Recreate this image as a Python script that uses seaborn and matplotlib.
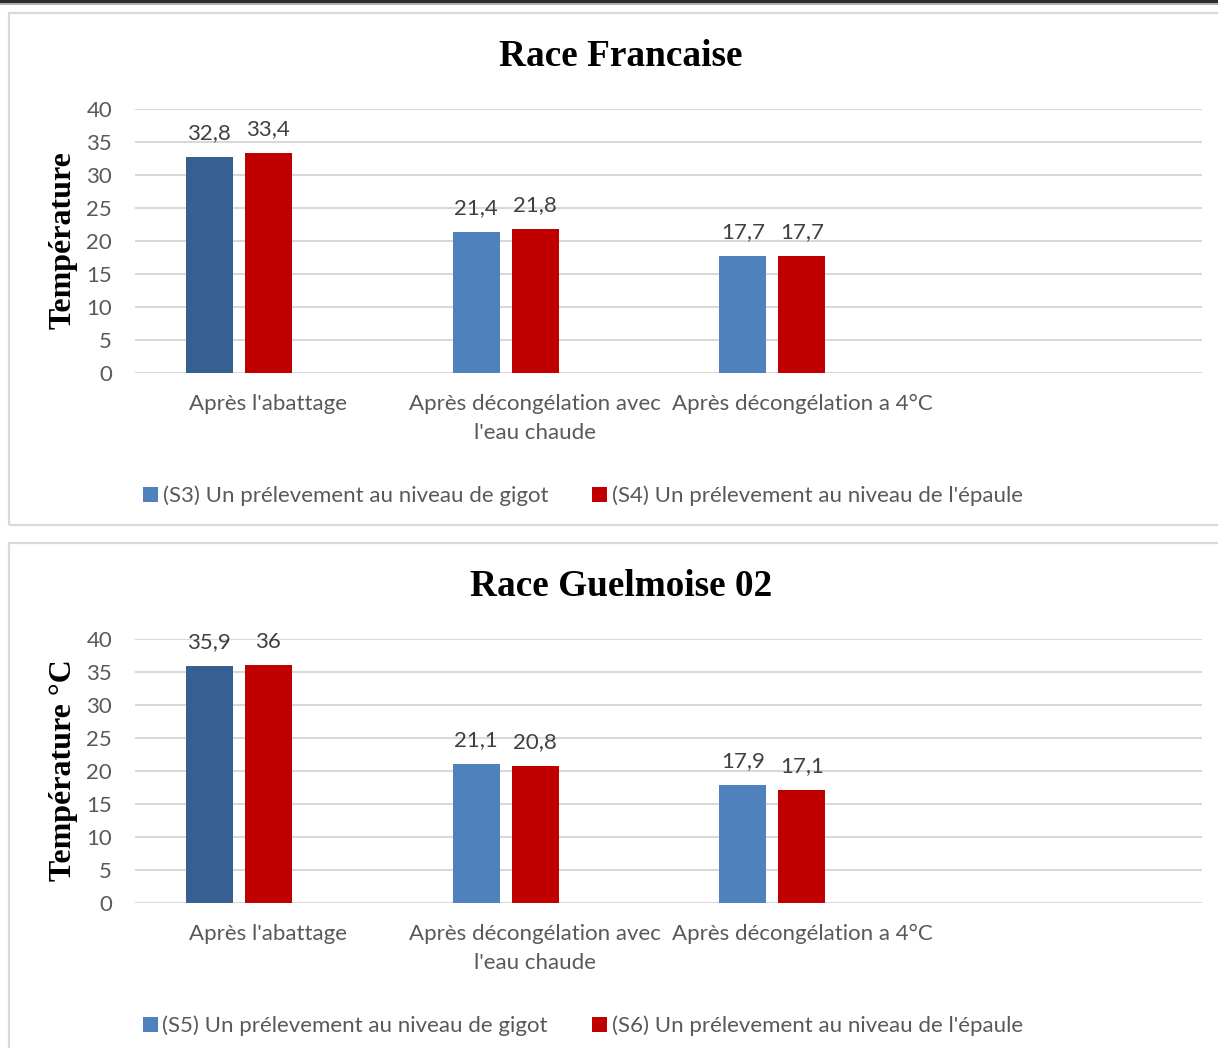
import numpy as np
import pandas as pd
import matplotlib
matplotlib.use("Agg")
import matplotlib.pyplot as plt
from matplotlib.patches import Rectangle, Patch
import seaborn as sns

# ---- data ----
categories = ["Après l'abattage", "Après décongélation avec\nl'eau chaude", "Après décongélation a 4°C", " "]
measured = categories[:3]

titles = ["Race Francaise", "Race Guelmoise 02"]
ylabels = ["Température", "Température °C"]

series_top = ["(S3) Un prélevement au niveau de gigot", "(S4) Un prélevement au niveau de l'épaule"]
gigot_top = [32.8, 21.4, 17.7]
epaule_top = [33.4, 21.8, 17.7]

series_bottom = ["(S5) Un prélevement au niveau de gigot", "(S6) Un prélevement au niveau de l'épaule"]
gigot_bottom = [35.9, 21.1, 17.9]
epaule_bottom = [36.0, 20.8, 17.1]

yticks = [0, 5, 10, 15, 20, 25, 30, 35, 40]

# ---- style ----
sns.set_style("white")
plt.rcParams["font.family"] = ["Lato", "DejaVu Sans"]

BLUE = "#4F81BD"
BLUE_DARK = "#376092"
RED = "#C00000"
GRID = "#D9D9D9"
TXT = "#595959"
LBL = "#404040"
FS = 16

W, H = 1218, 1048
fig = plt.figure(figsize=(W / 100, H / 100), dpi=100)
fig.patch.set_facecolor("white")


def fx(px):
    return px / W


def fy(py):
    return 1 - py / H


# top rule of the page
fig.patches.append(Rectangle((0, fy(3)), 1, 3 / H, transform=fig.transFigure,
                             facecolor="#2b2b2b", edgecolor="none"))
fig.patches.append(Rectangle((0, fy(5)), 1, 2 / H, transform=fig.transFigure,
                             facecolor="#b0b0b0", edgecolor="none"))


def fmt(v):
    return f"{v:g}".replace(".", ",")


def panel(top, title, ylabel, names, gigot, epaule):
    # frame around the panel
    fig.patches.append(Rectangle((fx(9), fy(top + 512)), fx(1240), 512 / H,
                                 transform=fig.transFigure, facecolor="none",
                                 edgecolor=GRID, linewidth=1.6))

    y0 = top + 360  # baseline pixel
    ax = fig.add_axes([fx(135), fy(y0), fx(1067), 264 / H])

    df = pd.DataFrame({
        "cat": measured * 2,
        "serie": [names[0]] * 3 + [names[1]] * 3,
        "val": list(gigot) + list(epaule),
    })
    hue_order = [names[0], names[1], "_vide"]
    pal = {names[0]: BLUE, names[1]: RED, "_vide": "white"}
    sns.barplot(data=df, x="cat", y="val", hue="serie", order=categories,
                hue_order=hue_order, palette=pal, saturation=1,
                width=3 * 59 / 266.75, gap=12 / 59, linewidth=0,
                legend=False, errorbar=None, ax=ax)

    ax.containers[0][0].set_facecolor(BLUE_DARK)

    for cont, vals in zip(ax.containers[:2], [gigot, epaule]):
        ax.bar_label(cont, labels=[fmt(v) for v in vals], padding=10,
                     fontsize=FS, color=LBL)

    ax.set_ylim(0, 40)
    ax.set_xlim(-0.5, 3.5)
    ax.set_yticks(yticks)
    ax.yaxis.grid(True, color=GRID, linewidth=1.5)
    ax.set_axisbelow(True)
    for s in ax.spines.values():
        s.set_visible(False)
    ax.tick_params(axis="y", length=0, pad=16.5, labelsize=FS, labelcolor=TXT)
    ax.tick_params(axis="x", length=0, pad=15, labelsize=FS, labelcolor=TXT)
    ax.set_xticks(range(len(categories)))
    ax.set_xticklabels(categories, linespacing=1.55)
    ax.set_xlabel("")
    ax.set_ylabel("")

    fig.text(fx(621), fy(top + 44), title, ha="center", va="center",
             fontsize=26.8, fontweight="bold", family="Liberation Serif", color="black")
    fig.text(fx(63), fy(top + 227), ylabel,
             ha="center", va="center", rotation=90, fontsize=23,
             fontweight="bold", family="Liberation Serif", color="black")

    handles = [Patch(facecolor=BLUE, edgecolor="none"),
               Patch(facecolor=RED, edgecolor="none")]
    fig.legend(handles, names, loc="center", bbox_to_anchor=(fx(583), fy(top + 483)),
               ncol=2, frameon=False, fontsize=FS, labelcolor=TXT,
               handlelength=0.65, handleheight=0.65, handletextpad=0.22,
               columnspacing=2.0, borderpad=0)
    return ax


panel(13, titles[0], ylabels[0], series_top, gigot_top, epaule_top)
panel(543, titles[1], ylabels[1], series_bottom, gigot_bottom, epaule_bottom)

fig.savefig("out.png", dpi=100, facecolor="white")
